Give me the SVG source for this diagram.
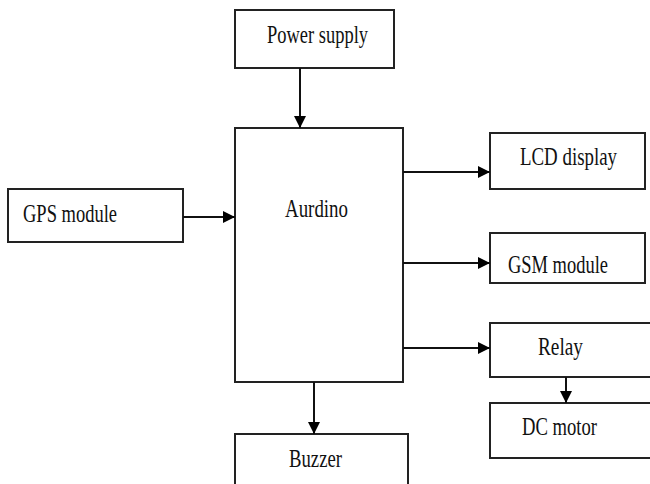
<svg xmlns="http://www.w3.org/2000/svg" width="650" height="484" viewBox="0 0 650 484">
<style>
.box{fill:#fff;stroke:#222;stroke-width:2}
.conn{stroke:#111;stroke-width:2;fill:none}
</style>
<defs>
<marker id="ah" viewBox="0 0 12 12" refX="12" refY="6" markerWidth="12" markerHeight="12" orient="auto" markerUnits="userSpaceOnUse">
<path d="M0,0 L12,6 L0,12 Z" fill="#000"/>
</marker>
</defs>
<rect width="650" height="484" fill="#fff"/>
<g font-family="Liberation Serif, serif" font-size="25" fill="#111">
<g id="power"><rect class="box" x="235" y="10" width="159" height="58"/><text x="267" y="43" textLength="101" lengthAdjust="spacingAndGlyphs">Power supply</text></g>
<g id="aurdino"><rect class="box" x="235" y="128" width="168" height="254"/><text x="285" y="217" textLength="63" lengthAdjust="spacingAndGlyphs">Aurdino</text></g>
<g id="gps"><rect class="box" x="8" y="189" width="175" height="53"/><text x="23" y="222" textLength="94" lengthAdjust="spacingAndGlyphs">GPS module</text></g>
<g id="lcd"><rect class="box" x="490" y="133" width="155" height="56"/><text x="520" y="165" textLength="97" lengthAdjust="spacingAndGlyphs">LCD display</text></g>
<g id="gsm"><rect class="box" x="490" y="233" width="155" height="50"/><text x="508" y="273" textLength="100" lengthAdjust="spacingAndGlyphs">GSM module</text></g>
<g id="relay"><rect class="box" x="490" y="323" width="162" height="54"/><text x="538" y="355" textLength="45" lengthAdjust="spacingAndGlyphs">Relay</text></g>
<g id="dcmotor"><rect class="box" x="490" y="403" width="162" height="55"/><text x="522" y="435" textLength="75" lengthAdjust="spacingAndGlyphs">DC motor</text></g>
<g id="buzzer"><rect class="box" x="235" y="434" width="173" height="60"/><text x="289" y="467" textLength="53" lengthAdjust="spacingAndGlyphs">Buzzer</text></g>
</g>
<g id="connectors">
<line class="conn" x1="300" y1="68" x2="300" y2="128" marker-end="url(#ah)"/>
<line class="conn" x1="183" y1="217" x2="235" y2="217" marker-end="url(#ah)"/>
<line class="conn" x1="403" y1="172" x2="490" y2="172" marker-end="url(#ah)"/>
<line class="conn" x1="403" y1="263" x2="490" y2="263" marker-end="url(#ah)"/>
<line class="conn" x1="403" y1="348" x2="490" y2="348" marker-end="url(#ah)"/>
<line class="conn" x1="566" y1="377" x2="566" y2="403" marker-end="url(#ah)"/>
<line class="conn" x1="314" y1="382" x2="314" y2="434" marker-end="url(#ah)"/>
</g>
</svg>
